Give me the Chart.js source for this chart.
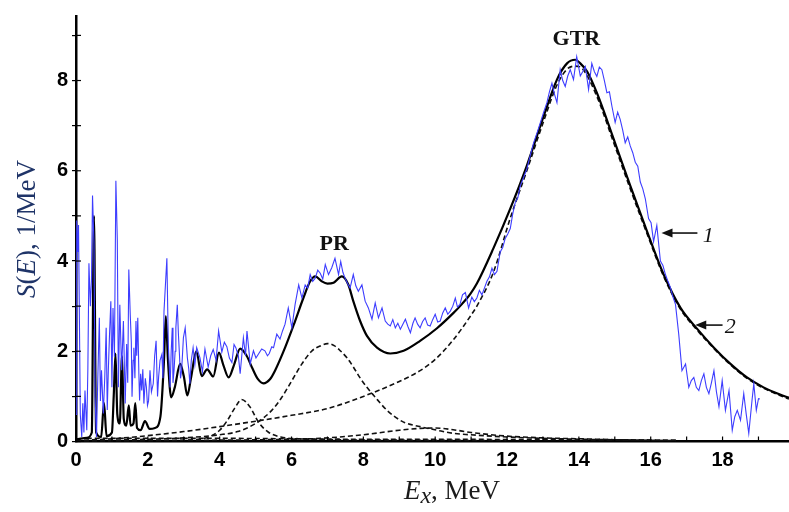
<!DOCTYPE html>
<html>
<head>
<meta charset="utf-8">
<script src="https://cdn.jsdelivr.net/npm/chart.js@4.4.1/dist/chart.umd.min.js"></script>
<style>
    html, body { margin: 0; padding: 0; background: #ffffff; }
    #wrap { width: 789px; height: 512px; }
</style>
</head>
<body>
<div id="wrap"><canvas id="chart" width="789" height="512"></canvas></div>
<script>
const expE = [
    0.00, 0.02, 0.05, 0.07, 0.12, 0.16, 0.19, 0.22,
    0.25, 0.30, 0.33, 0.36, 0.40, 0.43, 0.46, 0.50,
    0.53, 0.57, 0.61, 0.65, 0.68, 0.71, 0.76, 0.80,
    0.84, 0.87, 0.90, 0.93, 0.97, 1.00, 1.03, 1.07,
    1.11, 1.15, 1.18, 1.22, 1.27, 1.32, 1.37, 1.41,
    1.44, 1.47, 1.51, 1.54, 1.56, 1.59, 1.61, 1.64,
    1.67, 1.69, 1.72, 1.75, 1.77, 1.80, 1.83, 1.86,
    1.89, 1.93, 1.96, 1.99, 2.02, 2.06, 2.10, 2.15,
    2.19, 2.23, 2.27, 2.30, 2.34, 2.39, 2.42, 2.45,
    2.53, 2.57, 2.62, 2.65, 2.68, 2.70, 2.73, 2.76,
    2.78, 2.82, 2.85, 2.88, 2.91, 2.94, 2.97, 2.99,
    3.04, 3.07, 3.10, 3.14, 3.17, 3.21, 3.26, 3.31,
    3.36, 3.45, 3.52, 3.59, 3.68, 3.75, 3.82, 3.90, 3.97, 4.06, 4.13, 4.20, 4.27, 4.34, 4.40, 4.45,
    4.52, 4.57, 4.66, 4.72, 4.76, 4.85, 4.94, 5.01, 5.08, 5.17, 5.26, 5.33, 5.38, 5.45, 5.50, 5.59, 5.68, 5.75, 5.82, 5.91,
    6.01, 6.10, 6.20, 6.29, 6.38, 6.45, 6.52, 6.59, 6.66, 6.73, 6.80, 6.87, 6.94, 7.03, 7.12, 7.21, 7.31, 7.37, 7.43, 7.49,
    7.56, 7.63, 7.72, 7.79, 7.86, 7.96, 8.05, 8.14, 8.24, 8.33, 8.42, 8.52, 8.61, 8.68, 8.75, 8.82, 8.89, 8.96, 9.03, 9.10,
    9.17, 9.24, 9.31, 9.38, 9.44, 9.51, 9.58, 9.65, 9.72, 9.79, 9.86, 9.93, 10.00, 10.07, 10.14, 10.21, 10.28, 10.35, 10.42, 10.49,
    10.56, 10.62, 10.69, 10.76, 10.84, 10.93, 11.02, 11.09, 11.16, 11.23, 11.30, 11.37, 11.44, 11.51, 11.58, 11.65, 11.72, 11.81, 11.88, 11.95,
    12.02, 12.09, 12.16, 12.23, 12.30, 12.37, 12.46, 12.55, 12.65, 12.74, 12.84, 12.93, 13.02, 13.11, 13.18, 13.25, 13.32, 13.39, 13.48, 13.55,
    13.62, 13.69, 13.76, 13.85, 13.94, 14.04, 14.11, 14.18, 14.27, 14.36, 14.43, 14.50, 14.57, 14.64, 14.71, 14.78, 14.85, 14.92, 15.01, 15.08,
    15.15, 15.22, 15.29, 15.36, 15.43, 15.50, 15.57, 15.64, 15.71, 15.78, 15.85, 15.94, 16.01, 16.08, 16.17, 16.27, 16.34, 16.41, 16.48, 16.55,
    16.62, 16.69, 16.78, 16.87, 16.97, 17.06, 17.13, 17.20, 17.27, 17.34, 17.41, 17.48, 17.55, 17.62, 17.69, 17.76, 17.83, 17.90, 17.99, 18.08,
    18.18, 18.27, 18.34, 18.41, 18.50, 18.59, 18.66, 18.73, 18.82, 18.87, 18.94, 19.00, 19.04
];
const expS = [
    0.60, 4.90, 4.20, 4.80, 0.60, 0.10, 0.85, 0.20,
    1.13, 0.25, 1.60, 3.95, 3.00, 3.55, 5.45, 4.40,
    1.00, 0.10, 1.50, 2.74, 0.90, 1.58, 0.62, 1.40,
    2.52, 0.70, 1.58, 2.30, 3.11, 1.20, 2.96, 1.88,
    5.78, 4.47, 1.20, 3.03, 1.58, 2.67, 0.84, 2.16,
    1.30, 3.81, 2.82, 2.20, 0.99, 1.80, 2.08, 1.40,
    2.67, 1.90, 2.74, 1.50, 0.91, 1.50, 1.13, 1.60,
    0.84, 1.40, 1.20, 0.80, 0.90, 1.58, 1.10, 1.28,
    1.90, 2.23, 1.00, 1.43, 1.80, 1.93, 1.40, 2.89,
    4.06, 2.16, 1.20, 2.00, 2.52, 1.30, 1.58, 2.00,
    2.52, 3.03, 2.40, 1.93, 1.40, 1.58, 2.00, 2.30,
    2.52, 2.20, 1.86, 1.60, 1.28, 1.80, 2.08, 1.70,
    2.08, 1.86, 1.55, 2.05, 1.65, 1.90, 2.04, 1.80, 2.45, 1.98, 2.20, 2.10, 1.85, 1.75, 2.15, 2.08,
    1.90, 1.50, 2.30, 1.90, 2.45, 1.72, 2.01, 1.85, 1.94, 2.05, 2.01, 1.90, 1.95, 2.10, 2.08, 2.38, 2.27, 2.45, 2.60, 2.96,
    2.52, 3.04, 3.47, 3.18, 3.47, 3.40, 3.70, 3.55, 3.62, 3.80, 3.73, 3.60, 3.92, 3.70, 3.85, 4.06, 3.70, 3.99, 3.75, 3.62,
    3.50, 3.40, 3.70, 3.45, 3.33, 3.47, 3.11, 2.96, 2.71, 3.07, 2.74, 2.96, 2.67, 2.60, 2.56, 2.70, 2.52, 2.62, 2.49, 2.60,
    2.71, 2.55, 2.41, 2.62, 2.74, 2.60, 2.52, 2.66, 2.74, 2.58, 2.56, 2.70, 2.82, 2.65, 2.67, 2.85, 2.96, 2.82, 2.89, 3.00,
    3.18, 2.98, 3.04, 3.25, 3.30, 2.96, 3.20, 3.10, 3.18, 3.35, 3.25, 3.40, 3.55, 3.65, 3.84, 3.70, 3.77, 4.20, 4.30, 4.50,
    4.60, 4.72, 5.05, 5.30, 5.40, 5.67, 5.85, 6.04, 6.35, 6.62, 6.85, 7.07, 7.30, 7.51, 7.75, 7.94, 7.70, 7.51, 8.24, 8.00,
    7.87, 8.10, 8.24, 8.02, 8.53, 8.10, 8.20, 8.31, 7.80, 8.38, 8.20, 8.09, 8.30, 8.24, 8.00, 7.73, 7.75, 7.43, 7.07, 7.30,
    7.14, 6.90, 6.62, 6.75, 6.55, 6.40, 6.19, 6.10, 5.75, 5.60, 5.38, 4.94, 4.85, 4.43, 4.79, 4.00, 3.90, 3.70, 3.55, 3.41,
    3.20, 3.04, 2.38, 1.57, 1.72, 1.20, 1.35, 1.42, 1.20, 1.13, 1.35, 1.50, 1.20, 1.06, 1.30, 1.57, 1.10, 0.77, 1.35, 0.69,
    1.13, 0.25, 0.55, 0.69, 0.47, 1.06, 0.60, 0.18, 0.91, 1.28, 0.69, 0.95, 0.94
];

// Curve 2: calculated S(E)
const calcE = [
    0.00, 0.30, 0.44, 0.50, 0.56, 0.70, 0.78, 0.85, 1.00, 1.05, 1.10, 1.15, 1.22, 1.28, 1.33, 1.40, 1.47, 1.52, 1.60, 1.65,
    1.70, 1.80, 1.92, 2.05, 2.20, 2.35, 2.45, 2.50, 2.56, 2.65, 2.75, 2.90, 3.00, 3.10, 3.20, 3.35, 3.50, 3.65, 3.82, 3.98,
    4.10, 4.25, 4.40, 4.57, 4.75, 4.90, 5.05, 5.22, 5.40, 5.54, 5.82, 6.10, 6.33, 6.52, 6.66, 6.84, 7.00, 7.17, 7.40, 7.58,
    7.72, 7.91, 8.10, 8.38, 8.75, 9.12, 9.58, 10.05, 10.51, 10.75, 10.97, 11.16, 11.62, 12.09, 12.55, 13.02, 13.39, 13.67, 13.90, 14.04,
    14.23, 14.50, 14.97, 15.43, 15.90, 16.36, 16.83, 17.30, 17.76, 18.22, 18.68, 19.14, 19.60, 19.85
];
const calcS = [
    0.05, 0.08, 0.20, 5.00, 0.20, 0.10, 0.85, 0.12, 0.20, 1.00, 1.95, 0.60, 0.40, 1.90, 0.50, 0.35, 0.80, 0.35, 0.40, 0.85,
    0.30, 0.25, 0.45, 0.28, 0.30, 0.55, 1.80, 2.78, 1.80, 0.98, 1.20, 1.72, 1.45, 1.02, 1.40, 2.00, 1.45, 1.60, 1.44, 1.97,
    1.70, 1.42, 1.70, 2.06, 1.90, 1.64, 1.40, 1.29, 1.38, 1.57, 2.08, 2.67, 3.18, 3.55, 3.66, 3.55, 3.50, 3.52, 3.66, 3.48,
    3.11, 2.67, 2.34, 2.08, 1.95, 2.01, 2.23, 2.51, 2.85, 3.05, 3.26, 3.50, 4.28, 5.16, 6.11, 7.21, 8.02, 8.38, 8.46, 8.38,
    8.20, 7.73, 6.70, 5.67, 4.65, 3.70, 2.96, 2.49, 2.08, 1.72, 1.42, 1.20, 1.04, 0.97
];

// Components of the calculation (dashed)
const gtrE = [0, 1, 2, 3, 4, 5, 6, 7, 8, 9, 9.58, 10, 10.5, 11, 11.16, 11.62, 12.09, 12.55, 13.02, 13.39, 13.67, 13.9, 14.1, 14.5, 14.97, 15.43, 15.9, 16.36, 16.83, 17.3, 17.76, 18.22, 18.68, 19.14, 19.6, 19.85];
const gtrS = [0.02, 0.06, 0.13, 0.22, 0.33, 0.45, 0.58, 0.73, 1.00, 1.33, 1.57, 1.82, 2.25, 2.80, 3.00, 3.75, 4.95, 6.00, 7.10, 7.90, 8.25, 8.32, 8.26, 7.65, 6.62, 5.60, 4.60, 3.66, 2.93, 2.46, 2.06, 1.70, 1.40, 1.18, 1.02, 0.94];

const prE = [0, 1, 2, 3, 4, 4.5, 5, 5.45, 5.73, 6.01, 6.29, 6.57, 6.84, 7.0, 7.2, 7.36, 7.55, 7.73, 7.9, 8.1, 8.29, 8.66, 9.12, 9.58, 10.05, 10.51, 10.97, 12, 13, 14, 16];
const prS = [0.02, 0.03, 0.05, 0.08, 0.15, 0.22, 0.40, 0.69, 0.98, 1.35, 1.72, 2.01, 2.13, 2.17, 2.12, 2.01, 1.85, 1.64, 1.42, 1.20, 1.02, 0.69, 0.43, 0.33, 0.25, 0.18, 0.15, 0.10, 0.07, 0.05, 0.03];

const lowE = [0, 2, 3.3, 3.7, 4.0, 4.2, 4.42, 4.61, 4.84, 5.08, 5.35, 5.7, 6.2, 7, 9, 12];
const lowS = [0.01, 0.02, 0.04, 0.10, 0.25, 0.45, 0.74, 0.93, 0.77, 0.43, 0.21, 0.10, 0.06, 0.04, 0.03, 0.02];

const broadE = [0, 4, 6, 6.8, 8, 9, 9.58, 10, 10.5, 11, 12, 13, 14, 15, 16.7];
const broadS = [0.01, 0.03, 0.05, 0.07, 0.15, 0.25, 0.29, 0.30, 0.26, 0.20, 0.12, 0.08, 0.06, 0.04, 0.02];

const flatE = [0.3, 2, 4, 6, 8, 10, 13, 16.7];
const flatS = [0.07, 0.07, 0.07, 0.06, 0.05, 0.05, 0.04, 0.03];

// Text labels placed in data coordinates
const peakLabels = [
    { text: 'GTR', x: 13.93, y: 8.78 },
    { text: 'PR', x: 7.19, y: 4.25 },
];
const curveArrows = [
    { text: '1', tipX: 16.30, tipY: 4.62, tailX: 17.30, textX: 17.45, textY: 4.43 },
    { text: '2', tipX: 17.24, tipY: 2.58, tailX: 18.00, textX: 18.06, textY: 2.41 },
];

const toPoints = (xs, ys) => xs.map((x, i) => ({ x, y: ys[i] }));

const dashedSet = (xs, ys) => ({
    data: toPoints(xs, ys),
    borderColor: '#111111',
    borderWidth: 1.6,
    borderDash: [5, 3],
    pointRadius: 0,
    cubicInterpolationMode: 'monotone',
    order: 2,
});

const drawRich = (ctx, parts, cx, baseY) => {
    const widths = parts.map(p => { ctx.font = p.font; return ctx.measureText(p.text).width; });
    const total = widths.reduce((a, w) => a + w, 0);
    let x = cx - total / 2;
    parts.forEach((p, i) => {
        ctx.font = p.font;
        ctx.fillText(p.text, x, baseY + (p.dy || 0));
        x += widths[i];
    });
};

const extrasPlugin = {
    id: 'extras',
    afterDraw(chart) {
        const { ctx, chartArea, scales: { x, y } } = chart;
        ctx.save();

        // tick marks pointing into the plot
        ctx.strokeStyle = '#000';
        ctx.lineWidth = 1.2;
        x.ticks.forEach(t => {
            const px = x.getPixelForValue(t.value);
            ctx.beginPath();
            ctx.moveTo(px, chartArea.bottom);
            ctx.lineTo(px, chartArea.bottom - 5);
            ctx.stroke();
        });
        y.ticks.forEach(t => {
            const py = y.getPixelForValue(t.value);
            ctx.beginPath();
            ctx.moveTo(chartArea.left, py);
            ctx.lineTo(chartArea.left + 5, py);
            ctx.stroke();
        });

        // axis titles
        const serif = '"Liberation Serif", "Times New Roman", serif';
        ctx.textAlign = 'left';
        ctx.textBaseline = 'alphabetic';
        ctx.fillStyle = '#1f3468';
        ctx.save();
        ctx.translate(chartArea.left - 41, 229);
        ctx.rotate(-Math.PI / 2);
        drawRich(ctx, [
            { text: 'S', font: `italic 27px ${serif}` },
            { text: '(', font: `27px ${serif}` },
            { text: 'E', font: `italic 27px ${serif}` },
            { text: '), 1/MeV', font: `27px ${serif}` },
        ], 0, 0);
        ctx.restore();

        ctx.fillStyle = '#1a1a1a';
        drawRich(ctx, [
            { text: 'E', font: `italic 27px ${serif}` },
            { text: 'x', font: `italic 24px ${serif}`, dy: 4 },
            { text: ', MeV', font: `27px ${serif}` },
        ], 452, chartArea.bottom + 57);

        // peak names
        ctx.fillStyle = '#111';
        ctx.font = `bold 22px ${serif}`;
        ctx.textAlign = 'center';
        peakLabels.forEach(l => {
            ctx.fillText(l.text, x.getPixelForValue(l.x), y.getPixelForValue(l.y));
        });

        // arrows marking the curves
        ctx.textAlign = 'left';
        ctx.font = `italic 22px ${serif}`;
        ctx.strokeStyle = '#111';
        ctx.lineWidth = 1.6;
        curveArrows.forEach(a => {
            const tipX = x.getPixelForValue(a.tipX);
            const tipY = y.getPixelForValue(a.tipY);
            const tailX = x.getPixelForValue(a.tailX);
            ctx.beginPath();
            ctx.moveTo(tailX, tipY);
            ctx.lineTo(tipX + 8, tipY);
            ctx.stroke();
            ctx.beginPath();
            ctx.moveTo(tipX, tipY);
            ctx.lineTo(tipX + 11, tipY - 4.5);
            ctx.lineTo(tipX + 11, tipY + 4.5);
            ctx.closePath();
            ctx.fill();
            ctx.fillText(a.text, x.getPixelForValue(a.textX), y.getPixelForValue(a.textY));
        });

        ctx.restore();
    }
};

const tickFont = { family: '"Liberation Sans", Arial, sans-serif', size: 20, weight: 'bold' };

new Chart(document.getElementById('chart').getContext('2d'), {
    type: 'line',
    data: {
        datasets: [
            {
                data: toPoints(expE, expS),
                borderColor: '#3d3dff',
                borderWidth: 1.1,
                pointRadius: 0,
                tension: 0,
                order: 0,
            },
            {
                data: toPoints(calcE, calcS),
                borderColor: '#000000',
                borderWidth: 2.2,
                pointRadius: 0,
                cubicInterpolationMode: 'monotone',
                order: 1,
            },
            dashedSet(gtrE, gtrS),
            dashedSet(prE, prS),
            dashedSet(lowE, lowS),
            dashedSet(broadE, broadS),
            dashedSet(flatE, flatS),
        ]
    },
    options: {
        responsive: false,
        animation: false,
        layout: { padding: { top: 12, left: 0, right: 0, bottom: 0 } },
        plugins: {
            legend: { display: false },
            tooltip: { enabled: false },
        },
        scales: {
            x: {
                type: 'linear',
                min: 0,
                max: 19.85,
                afterFit: (scale) => { scale.height = 70.5; },
                border: { display: true, color: '#000', width: 2.5 },
                grid: { display: true, drawOnChartArea: false, drawTicks: false },
                ticks: {
                    stepSize: 1,
                    includeBounds: false,
                    autoSkip: false,
                    maxRotation: 0,
                    padding: 7,
                    color: '#000',
                    font: tickFont,
                    callback: (v) => (v % 2 === 0 ? String(v) : ''),
                },
            },
            y: {
                type: 'linear',
                min: 0,
                max: 9.43,
                afterFit: (scale) => { scale.width = 76; },
                border: { display: true, color: '#000', width: 2.5 },
                grid: { display: true, drawOnChartArea: false, drawTicks: true, tickLength: 4, color: '#000', lineWidth: 1.2 },
                ticks: {
                    stepSize: 1,
                    includeBounds: false,
                    autoSkip: false,
                    padding: 4,
                    color: '#000',
                    font: tickFont,
                    callback: (v) => (v % 2 === 0 ? String(v) : ''),
                },
            },
        },
    },
    plugins: [extrasPlugin],
});
</script>
</body>
</html>
